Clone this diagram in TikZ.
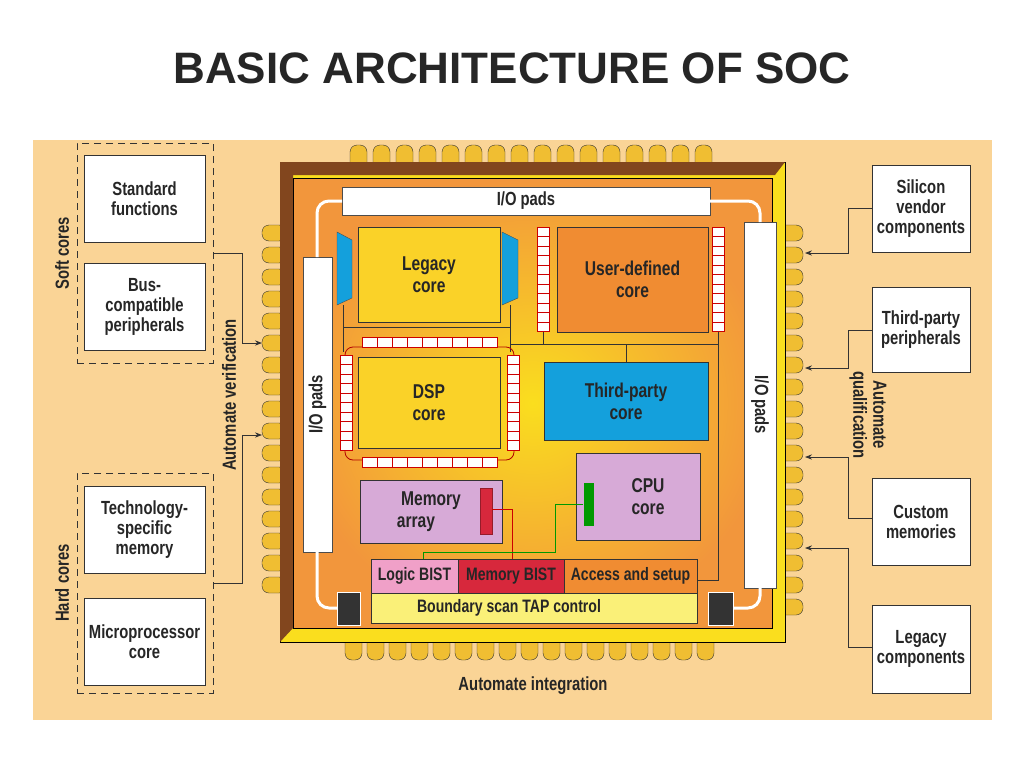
\documentclass[tikz,border=0pt]{standalone}
\usepackage{fontspec}
\setmainfont{Liberation Sans}
\newfontfamily\cond[FakeStretch=0.78]{Liberation Sans}
\usetikzlibrary{positioning,arrows.meta}
\definecolor{paper}{RGB}{250,212,150}
\definecolor{chipyel}{RGB}{250,222,30}
\definecolor{chiporg}{RGB}{242,150,60}
\definecolor{bevel}{RGB}{130,70,30}
\definecolor{coreyel}{RGB}{250,210,40}
\definecolor{coreorg}{RGB}{240,140,50}
\definecolor{coreblue}{RGB}{20,160,220}
\definecolor{corepink}{RGB}{215,170,215}
\definecolor{bistpink}{RGB}{240,160,200}
\definecolor{bistred}{RGB}{215,40,60}
\definecolor{tapyel}{RGB}{250,240,120}
\definecolor{pinyel}{RGB}{240,190,50}

\begin{document}
\begin{tikzpicture}[x=1pt,y=-1pt,
	  every node/.style={font=\cond\bfseries,text=black!85,align=center},
	  extbox/.style={draw=black!80,thick,fill=white,font=\cond\bfseries\fontsize{19}{20}\selectfont},
	  group/.style={draw=black!80,thick,dash pattern=on 7pt off 5pt},
	  core/.style={draw=black!80,thick,font=\cond\bfseries\fontsize{20}{22}\selectfont},
	  padbar/.style={draw=black!70,fill=white,font=\cond\bfseries\fontsize{19}{20}\selectfont},
	  pin/.style={draw=black!80,fill=pinyel,rounded corners=7pt},
	  cell/.style={draw=red!80!black,fill=white,line width=0.6pt},
	  wire/.style={draw=black!80,thick},
	  to/.style={-{Stealth[length=7pt]},draw=black!80,thick}]

	  % page and title
	  \fill[white] (0,0) rectangle (1024,768);
	  \fill[paper] (33,140) rectangle (992,720);
	  \node (title) at (512,68) {\fontsize{44}{48}\selectfont\rmfamily\bfseries BASIC ARCHITECTURE OF SOC};

	  % pins round the chip
	  \foreach \x in {350,373,...,705} \draw[pin] (\x,145) rectangle ++(17,24);
	  \foreach \x in {345,367,...,705} \draw[pin] (\x,636) rectangle ++(17,24);
	  \foreach \y in {225,247,...,585} \draw[pin] (262,\y) rectangle ++(24,16);
	  \foreach \y in {225,247,...,605} \draw[pin] (779,\y) rectangle ++(24,16);

	  % chip body
	  \draw[thick,fill=chipyel] (280,162) rectangle (785,642);
	  \fill[bevel] (280,162) -- (785,162) -- (775,175) -- (293,175) -- (293,628) -- (280,642) -- cycle;
	  \draw[thick,inner color=chipyel,outer color=chiporg] (293,178) rectangle (772,628);

	  % I/O pads
	  \node[padbar,minimum width=368,minimum height=28] (iotop) at (526,201) {I/O pads};
	  \node[padbar,minimum width=29,minimum height=295] (ioleft) at (317.5,404.5) {};
	  \node[rotate=90,font=\cond\bfseries\fontsize{19}{20}\selectfont] at (ioleft) {I/O pads};
	  \node[padbar,minimum width=32,minimum height=366] (ioright) at (760,405) {};
	  \node[rotate=-90,font=\cond\bfseries\fontsize{19}{20}\selectfont] at (ioright) {I/O pads};
	  \draw[white,line width=3pt,rounded corners=12pt] (342,201) -- (317,201) -- (317,257);
	  \draw[white,line width=3pt,rounded corners=12pt] (710,201) -- (760,201) -- (760,222);
	  \draw[white,line width=3pt,rounded corners=12pt] (317,552) -- (317,608) -- (337,608);
	  \draw[white,line width=3pt,rounded corners=12pt] (760,588) -- (760,608) -- (733,608);

	  % bus wires
	  \draw[wire] (343,305) -- (343,352) (510,305) -- (510,352) (343,327) -- (510,327);
	  \draw[wire] (510,344) -- (718,344) (543,332) -- (543,344) (626,344) -- (626,362);
	  \draw[wire] (718,332) -- (718,580) -- (697,580);

	  % cores
	  \node[core,fill=coreyel,minimum width=142,minimum height=95] (legacy) at (429,274.5) {Legacy\\core};
	  \fill[coreblue,draw=black!70] (337,232) -- (352,240) -- (352,298) -- (337,305) -- cycle;
	  \fill[coreblue,draw=black!70] (502,232) -- (518,240) -- (518,298) -- (502,305) -- cycle;
	  \node[core,fill=coreorg,minimum width=151,minimum height=105] (userdef) at (632.5,279.5) {User-defined\\core};
	  \foreach \y in {227,236.5,...,325} {
	    \draw[cell] (537,\y) rectangle ++(12,9.5);
	    \draw[cell] (712,\y) rectangle ++(12,9.5);
	  }
	  \draw[red!70!black,thick,rounded corners=8pt] (345,347) rectangle (514,460);
	  \node[core,fill=coreyel,minimum width=142,minimum height=91] (dsp) at (429,402.5) {DSP\\core};
	  \foreach \x in {362,377,...,490} {
	    \draw[cell] (\x,337) rectangle ++(15,10);
	    \draw[cell] (\x,457) rectangle ++(15,10);
	  }
	  \foreach \y in {355,364.5,...,442} {
	    \draw[cell] (340,\y) rectangle ++(12,9.5);
	    \draw[cell] (507,\y) rectangle ++(12,9.5);
	  }
	  \node[core,fill=coreblue,minimum width=164,minimum height=78] (thirdcore) at (626,401) {Third-party\\core};
	  \node[core,fill=corepink,minimum width=142,minimum height=63] (memarray) at (431,511.5) {Memory\\array\hspace*{30pt}};
	  \node[core,fill=corepink,minimum width=124,minimum height=87] (cpu) at (638,496.5) {\hspace*{20pt}CPU\\\hspace*{20pt}core};
	  \node[fill=bistred,draw=bistred!70!black,minimum width=12,minimum height=46] (membar) at (486,511) {};
	  \node[fill=green!60!black,minimum width=10,minimum height=43] (cpubar) at (588.5,504.5) {};

	  % test blocks
	  \node[core,fill=bistpink,minimum width=87,minimum height=34,font=\cond\bfseries\fontsize{18}{20}\selectfont] (logicbist) at (414.5,576) {Logic BIST};
	  \node[core,fill=bistred,minimum width=106,minimum height=34,font=\cond\bfseries\fontsize{18}{20}\selectfont] (membist) at (511,576) {Memory BIST};
	  \node[core,fill=coreorg,minimum width=133,minimum height=34,font=\cond\bfseries\fontsize{18}{20}\selectfont] (access) at (630.5,576) {Access and setup};
	  \node[core,fill=tapyel,minimum width=326,minimum height=30,font=\cond\bfseries\fontsize{18}{20}\selectfont] (tap) at (534,608) {Boundary scan TAP control\hspace*{50pt}};
	  \node[draw=white,thick,fill=black!80,minimum width=23,minimum height=33] (tapl) at (348.5,608.5) {};
	  \node[draw=white,thick,fill=black!80,minimum width=25,minimum height=33] (tapr) at (720.5,608.5) {};
	  \draw[red!80!black,thick] (membar.east |- 0,509) -| (512,559);
	  \draw[green!60!black,thick] (cpubar.west |- 0,504) -| (555,552) -| (423,559);

	  % soft and hard cores
	  \node[extbox,minimum width=121,minimum height=87] (stdfn) at (144.5,198.5) {Standard\\functions};
	  \node[extbox,minimum width=121,minimum height=87] (buscomp) at (144.5,306.5) {Bus-\\compatible\\peripherals};
	  \node[extbox,minimum width=121,minimum height=87] (techmem) at (144.5,529.5) {Technology-\\specific\\memory};
	  \node[extbox,minimum width=121,minimum height=87] (microproc) at (144.5,642) {Microprocessor\\core};
	  \node[group,minimum width=136,minimum height=220] (softgrp) at (145,253) {};
	  \node[group,minimum width=136,minimum height=220] (hardgrp) at (145,583) {};
	  \node[rotate=90,font=\cond\bfseries\fontsize{19}{20}\selectfont,left=4pt of softgrp.west,anchor=south] (softlbl) {Soft cores};
	  \node[rotate=90,font=\cond\bfseries\fontsize{19}{20}\selectfont,left=4pt of hardgrp.west,anchor=south] (hardlbl) {Hard cores};
	  \coordinate (verin1) at (262,343);
	  \coordinate (verin2) at (262,435);
	  \draw[to] (softgrp.east) -| (242,343) -- (verin1);
	  \draw[to] (hardgrp.east) -| (242,435) -- (verin2);
	  \node[rotate=90,font=\cond\bfseries\fontsize{19}{20}\selectfont] (verlbl) at (229,395) {Automate verification};

	  % vendor side
	  \node[extbox,minimum width=98,minimum height=87] (silicon) at (921,208.5) {Silicon\\vendor\\components};
	  \node[extbox,minimum width=98,minimum height=85] (thirdper) at (921,329.5) {Third-party\\peripherals};
	  \node[extbox,minimum width=98,minimum height=87] (custmem) at (921,521.5) {Custom\\memories};
	  \node[extbox,minimum width=98,minimum height=88] (legcomp) at (921,649) {Legacy\\components};
	  \coordinate (qin1) at (805,253);
	  \coordinate (qin2) at (805,368);
	  \coordinate (qin3) at (805,457);
	  \coordinate (qin4) at (805,548);
	  \draw[to] (silicon.west |- 0,208) -| (848,253) -- (qin1);
	  \draw[to] (thirdper.west |- 0,330) -| (848,368) -- (qin2);
	  \draw[to] (custmem.west |- 0,518) -| (848,457) -- (qin3);
	  \draw[to] (legcomp.west |- 0,647) -| (848,548) -- (qin4);
	  \node[rotate=-90,font=\cond\bfseries\fontsize{19}{20}\selectfont] (qlbl) at (868,415) {Automate\\qualification};
	  \node[font=\cond\bfseries\fontsize{19}{20}\selectfont] (intlbl) at (533,686) {Automate integration};
\end{tikzpicture}
\end{document}
